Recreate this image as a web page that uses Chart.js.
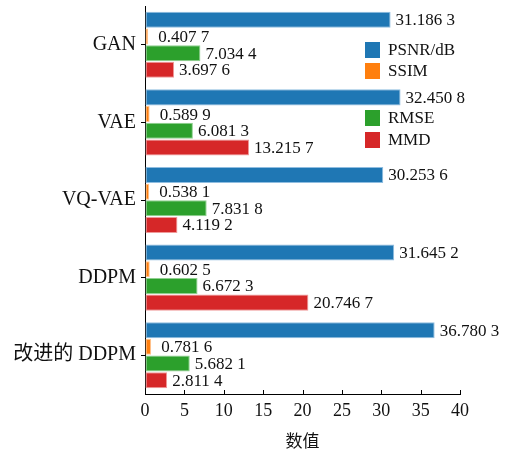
<!DOCTYPE html>
<html>
<head>
<meta charset="utf-8">
<script src="https://cdn.jsdelivr.net/npm/chart.js@4"></script>
<style>
	html, body { margin: 0; padding: 0; background: #fff; }
	#wrap { width: 513px; height: 453px; }
</style>
</head>
<body>
<div id="wrap"><canvas id="chart"></canvas></div>
<script>
const categories = ['GAN', 'VAE', 'VQ-VAE', 'DDPM', '改进的 DDPM'];
const seriesNames = ['PSNR/dB', 'SSIM', 'RMSE', 'MMD'];
const psnr = [31.1863, 32.4508, 30.2536, 31.6452, 36.7803];
const ssim = [0.4077, 0.5899, 0.5381, 0.6025, 0.7816];
const rmse = [7.0344, 6.0813, 7.8318, 6.6723, 5.6821];
const mmd = [3.6976, 13.2157, 4.1192, 20.7467, 2.8114];
const xTicks = [0, 5, 10, 15, 20, 25, 30, 35, 40];

const colors = ['#1f77b4', '#ff7f0e', '#2ca02c', '#d62728'];
const edges = ['#8fbde0', '#ffc58f', '#8fd08f', '#ef9a9a'];
const serif = "'Liberation Serif', 'Noto Sans CJK SC', serif";

// 31.1863 -> "31.186 3"
function fmt(v){
	let s = v.toFixed(4);
	return s.slice(0, -1) + ' ' + s.slice(-1);
}

const valueLabels = {
	id: 'valueLabels',
	afterDatasetsDraw(chart){
		let ctx = chart.ctx;
		ctx.save();
		ctx.font = '17px ' + serif;
		ctx.fillStyle = '#111';
		ctx.textBaseline = 'middle';
		ctx.textAlign = 'left';
		chart.data.datasets.forEach((ds, i) => {
			let gap = i === 1 ? 10 : 5;
			chart.getDatasetMeta(i).data.forEach((bar, j) => {
				ctx.fillText(fmt(ds.data[j]), bar.x + gap, bar.y + 1);
			});
		});
		ctx.restore();
	}
};

// x ticks point inwards
const innerTicks = {
	id: 'innerTicks',
	afterDraw(chart){
		let ctx = chart.ctx;
		let x = chart.scales.x;
		ctx.save();
		ctx.strokeStyle = '#000';
		ctx.lineWidth = 1;
		x.ticks.forEach(t => {
			let px = Math.round(x.getPixelForValue(t.value)) + 0.5;
			ctx.beginPath();
			ctx.moveTo(px, x.top);
			ctx.lineTo(px, x.top - 4);
			ctx.stroke();
		});
		ctx.restore();
	}
};

// legend with the same gap as the original
const legendRows = [50, 71, 118, 140];
const customLegend = {
	id: 'customLegend',
	afterDraw(chart){
		let ctx = chart.ctx;
		ctx.save();
		ctx.font = '17px ' + serif;
		ctx.textBaseline = 'middle';
		seriesNames.forEach((name, i) => {
			ctx.fillStyle = colors[i];
			ctx.fillRect(365, legendRows[i] - 8, 15, 16);
			ctx.fillStyle = '#111';
			ctx.fillText(name, 388, legendRows[i] + 1);
		});
		ctx.restore();
	}
};

const seriesValues = [psnr, ssim, rmse, mmd];

new Chart(document.getElementById('chart'), {
	type: 'bar',
	data: {
		labels: categories,
		datasets: seriesValues.map((vals, i) => ({
			label: seriesNames[i],
			data: vals,
			backgroundColor: colors[i],
			borderColor: edges[i],
			borderWidth: 1,
			borderSkipped: false,
			categoryPercentage: 0.86,
			barPercentage: 0.96
		}))
	},
	options: {
		indexAxis: 'y',
		responsive: true,
		maintainAspectRatio: false,
		animation: false,
		layout: { padding: { top: 6, right: 53, left: 0, bottom: 0 } },
		plugins: {
			legend: { display: false },
			tooltip: { enabled: false }
		},
		scales: {
			x: {
				min: 0,
				max: 40,
				afterBuildTicks: scale => { scale.ticks = xTicks.map(v => ({ value: v })); },
				afterFit: scale => { scale.height = 59; },
				grid: { drawOnChartArea: false, drawTicks: false },
				border: { display: true, color: '#000', width: 1 },
				ticks: {
					color: '#111',
					padding: 6,
					maxRotation: 0,
					font: { family: serif, size: 18 }
				},
				title: {
					display: true,
					text: '数值',
					color: '#111',
					padding: { top: 0, bottom: 0 },
					font: { family: serif, size: 17 }
				}
			},
			y: {
				afterFit: scale => {
					scale.width = 145;
					scale.paddingTop = 0;
					scale.paddingBottom = 0;
				},
				grid: { drawOnChartArea: false, drawTicks: true, tickLength: 4, offset: false, color: '#000' },
				border: { display: true, color: '#000', width: 1 },
				ticks: {
					color: '#111',
					padding: 5,
					font: { family: serif, size: 20 }
				}
			}
		}
	},
	plugins: [valueLabels, innerTicks, customLegend]
});
</script>
</body>
</html>
